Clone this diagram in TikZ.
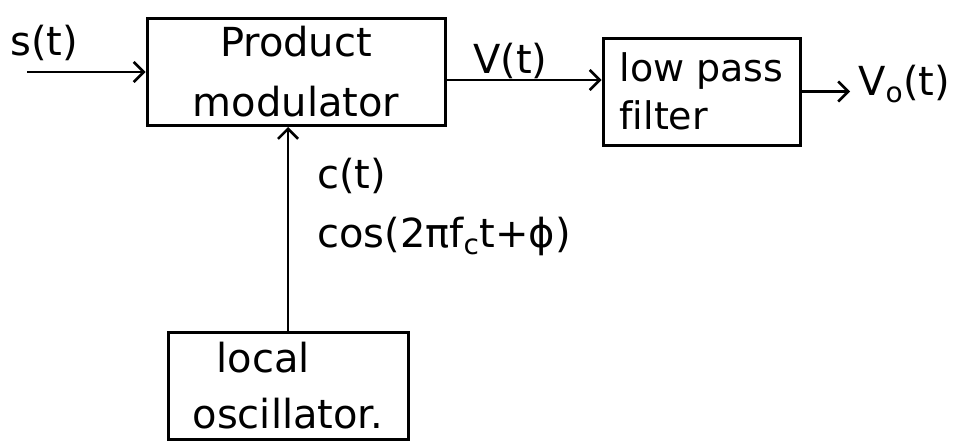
\documentclass[tikz,border=0pt]{standalone}
\usepackage{fontspec}
\setmainfont[Ligatures=NoCommon]{DejaVu Sans}
\usetikzlibrary{arrows.meta}
\begin{document}
\begin{tikzpicture}[x=1pt,y=-1pt,
  box/.style={draw, line width=3pt, inner sep=0pt, font=\fontsize{40}{60}\selectfont},
  lbl/.style={inner sep=0pt, font=\fontsize{40}{46}\selectfont},
  arr/.style={line width=2.6pt, -{Straight Barb[length=10pt,width=20pt,line width=2.6pt]}}]
\useasboundingbox (0,0) rectangle (960,442);
\node[box, minimum width=298pt, minimum height=107pt, align=center] (pm) at (296,72) {Product\\modulator};
\node[box, minimum width=197pt, minimum height=107pt, align=left, font=\fontsize{38}{48}\selectfont] (lp) at (701.5,91.5) {low pass\\filter};
\node[box, minimum width=240pt, minimum height=107pt, align=left, font=\fontsize{40}{56}\selectfont] (osc) at (288,385.5) {\hspace*{24pt}local\\oscillator.};
\node[lbl, anchor=base west] (s) at (10,55) {s(t)};
\coordinate (sin) at (27,72);
\draw[arr] (sin) -- (sin -| pm.west);
\node[lbl, anchor=base west] (v) at (473,73) {V(t)};
\coordinate (vy) at (520,80);
\draw[arr] (vy -| pm.east) -- (vy -| lp.west);
\node[lbl, anchor=base west] (vo) at (858,95) {V\textsubscript{o}(t)};
\draw[arr] (lp.east) -- ([xshift=-8pt]vo.west |- lp.east);
\draw[arr] (osc.north) -- (osc.north |- pm.south);
\node[lbl, anchor=base west] (c) at (317,188) {c(t)};
\node[lbl, anchor=base west] (cs) at (317,247) {cos(2πf\textsubscript{c}t+ϕ)};
\end{tikzpicture}
\end{document}
